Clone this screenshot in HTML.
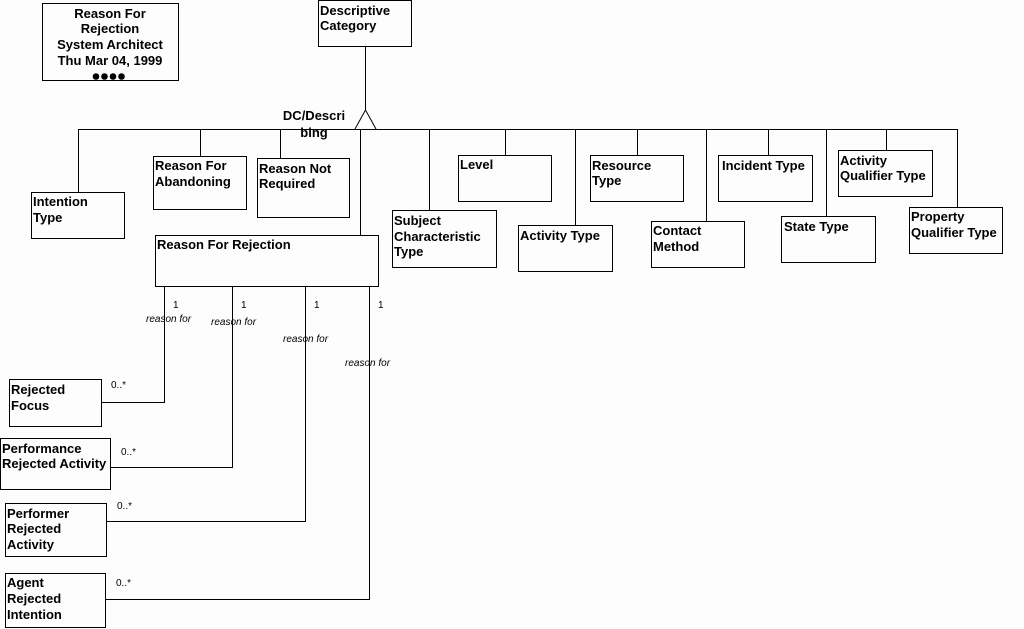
<!DOCTYPE html>
<html><head><style>
body{margin:0;background:#fff;}
svg{display:block}
text{font-family:"Liberation Sans",Arial,sans-serif;font-size:13px;font-weight:bold;fill:#000}
.s{font-size:10px;font-weight:normal}
.i{font-size:10px;font-weight:normal;font-style:italic}
</style></head><body>
<svg width="1024" height="629" viewBox="0 0 1024 629">
<rect width="1024" height="629" fill="#fdfdfd"/>
<g fill="none" stroke="#000" stroke-width="1">
<rect x="42.5" y="3.5" width="136" height="77"/>
<rect x="318.5" y="0.5" width="93" height="46"/>
<path d="M365.5 46V110M355 129L365.5 110L376 129"/>
<path d="M78.5 129.5H957.5"/>
<path d="M78.5 129V192M200.5 129V156M280.5 129V158M360.5 129V235M429.5 129V210M505.5 129V155M575.5 129V225M637.5 129V155M706.5 129V221M768.5 129V155M826.5 129V216M886.5 129V150M957.5 129V207"/>
<rect x="31.5" y="192.5" width="93" height="46"/>
<rect x="153.5" y="156.5" width="93" height="53"/>
<rect x="257.5" y="158.5" width="92" height="59"/>
<rect x="155.5" y="235.5" width="223" height="51"/>
<rect x="392.5" y="210.5" width="104" height="57"/>
<rect x="458.5" y="155.5" width="93" height="46"/>
<rect x="518.5" y="225.5" width="94" height="46"/>
<rect x="590.5" y="155.5" width="93" height="46"/>
<rect x="651.5" y="221.5" width="93" height="46"/>
<rect x="718.5" y="155.5" width="94" height="46"/>
<rect x="781.5" y="216.5" width="94" height="46"/>
<rect x="838.5" y="150.5" width="94" height="46"/>
<rect x="909.5" y="207.5" width="93" height="46"/>
<path d="M164.5 286V402.5H101M232.5 286V467.5H110M305.5 286V521.5H106M369.5 286V599.5H105"/>
<rect x="9.5" y="379.5" width="92" height="47"/>
<rect x="0.5" y="438.5" width="110" height="51"/>
<rect x="5.5" y="503.5" width="101" height="53"/>
<rect x="5.5" y="573.5" width="100" height="54"/>
</g>
<g fill="#000"><circle cx="96" cy="76.5" r="3.3"/><circle cx="104.5" cy="76.5" r="3.3"/><circle cx="113" cy="76.5" r="3.3"/><circle cx="121.5" cy="76.5" r="3.3"/></g>
<g text-anchor="middle">
<text x="110" y="18">Reason For</text>
<text x="110" y="33">Rejection</text>
<text x="110" y="49">System Architect</text>
<text x="110" y="65">Thu Mar 04, 1999</text>
<text x="314" y="120">DC/Descri</text>
<text x="314" y="137">bing</text>
</g>
<text x="320" y="15">Descriptive</text><text x="320" y="30">Category</text>
<text x="33" y="206">Intention</text><text x="33" y="222">Type</text>
<text x="155" y="170">Reason For</text><text x="155" y="186">Abandoning</text>
<text x="259" y="173">Reason Not</text><text x="259" y="188">Required</text>
<text x="157" y="249">Reason For Rejection</text>
<text x="394" y="225">Subject</text><text x="394" y="241">Characteristic</text><text x="394" y="256">Type</text>
<text x="460" y="169">Level</text>
<text x="520" y="240">Activity Type</text>
<text x="592" y="170">Resource</text><text x="592" y="185">Type</text>
<text x="653" y="235">Contact</text><text x="653" y="251">Method</text>
<text x="722" y="170">Incident Type</text>
<text x="784" y="231">State Type</text>
<text x="840" y="165">Activity</text><text x="840" y="180">Qualifier Type</text>
<text x="911" y="221">Property</text><text x="911" y="237">Qualifier Type</text>
<text x="11" y="394">Rejected</text><text x="11" y="410">Focus</text>
<text x="2" y="453">Performance</text><text x="2" y="468">Rejected Activity</text>
<text x="7" y="518">Performer</text><text x="7" y="533">Rejected</text><text x="7" y="549">Activity</text>
<text x="7" y="587">Agent</text><text x="7" y="603">Rejected</text><text x="7" y="619">Intention</text>
<text class="s" x="173" y="308">1</text><text class="s" x="241" y="308">1</text><text class="s" x="314" y="308">1</text><text class="s" x="378" y="308">1</text>
<text class="i" x="146" y="322">reason for</text><text class="i" x="211" y="325">reason for</text><text class="i" x="283" y="342">reason for</text><text class="i" x="345" y="366">reason for</text>
<text class="s" x="111" y="388">0..*</text><text class="s" x="121" y="455">0..*</text><text class="s" x="117" y="509">0..*</text><text class="s" x="116" y="586">0..*</text>
</svg>
</body></html>
